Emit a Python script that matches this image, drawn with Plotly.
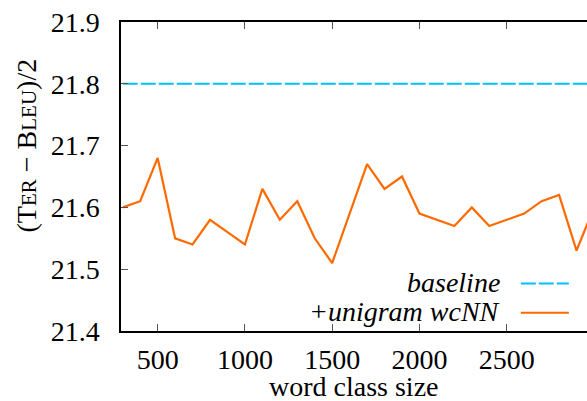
import plotly.graph_objects as go

class_sizes = [300, 400, 500, 600, 700, 800, 900, 1000, 1100, 1200, 1300, 1400, 1500,
               1600, 1700, 1800, 1900, 2000, 2100, 2200, 2300, 2400, 2500, 2600, 2700,
               2800, 2900, 3000]
wcnn_scores = [21.60, 21.61, 21.68, 21.55, 21.54, 21.58, 21.56, 21.54, 21.63, 21.58,
               21.61, 21.55, 21.51, 21.59, 21.67, 21.63, 21.65, 21.59, 21.58, 21.57,
               21.60, 21.57, 21.58, 21.59, 21.61, 21.62, 21.53, 21.60]
baseline_value = 21.80
x_ticks = [500, 1000, 1500, 2000, 2500]
y_ticks = [21.4, 21.5, 21.6, 21.7, 21.8, 21.9]

FONT = "Liberation Serif"
FS = 28
CYAN = "#00bfff"
ORANGE = "#ff6a00"

fig = go.Figure()
fig.add_trace(go.Scatter(x=[class_sizes[0], class_sizes[-1]], y=[baseline_value, baseline_value],
                         mode="lines", line=dict(color=CYAN, width=2, dash="15px,3px"),
                         name="baseline", showlegend=False))
fig.add_trace(go.Scatter(x=class_sizes, y=wcnn_scores, mode="lines",
                         line=dict(color=ORANGE, width=2.2), name="+unigram wcNN",
                         showlegend=False))

fig.update_layout(
    template="none",
    width=587, height=401,
    margin=dict(l=121, r=0, t=22, b=70, autoexpand=False),
    plot_bgcolor="white", paper_bgcolor="white",
    font=dict(family=FONT, size=FS, color="black"),
    xaxis=dict(range=[290, 2960], tickvals=x_ticks, ticks="inside", ticklen=7,
               tickcolor="#555", showline=True, linecolor="black", linewidth=1.5,
               mirror="ticks", showgrid=False, zeroline=False, ticklabelstandoff=3,
               automargin=False, tickfont=dict(family=FONT, size=FS)),
    yaxis=dict(range=[21.4, 21.9], tickvals=y_ticks, tickformat=".1f", ticks="inside",
               ticklen=7, tickcolor="#555", showline=True, linecolor="black", linewidth=1.5,
               mirror=False, showgrid=False, zeroline=False, ticklabelstandoff=14,
               automargin=False, tickfont=dict(family=FONT, size=FS)),
)

fig.add_annotation(xref="paper", yref="paper", x=0.5, y=-0.18, xanchor="center",
                   yanchor="middle", showarrow=False, text="word class size",
                   font=dict(family=FONT, size=FS))

sc = "font-size:21px"
fig.add_annotation(xref="paper", yref="paper", x=-0.202, y=0.6, xanchor="center",
                   yanchor="middle", textangle=-90, showarrow=False,
                   text=f"(T<span style='{sc}'>ER</span> − B<span style='{sc}'>LEU</span>)/2",
                   font=dict(family=FONT, size=FS))

legend_entries = [("baseline", CYAN, "15px,3px", 0.157), ("+unigram wcNN", ORANGE, "solid", 0.062)]
for label, color, dash, ypos in legend_entries:
    fig.add_annotation(xref="paper", yref="paper", x=0.8176, y=ypos, xanchor="right",
                       yanchor="middle", showarrow=False, text=f"<i>{label}</i>",
                       font=dict(family=FONT, size=FS))
    fig.add_shape(type="line", xref="paper", yref="paper", x0=0.858, x1=0.961,
                  y0=ypos - 0.003, y1=ypos - 0.003, line=dict(color=color, width=2, dash=dash))

fig.write_html("out.html", config={"displayModeBar": False},
               post_script="document.body.style.margin='0';")
